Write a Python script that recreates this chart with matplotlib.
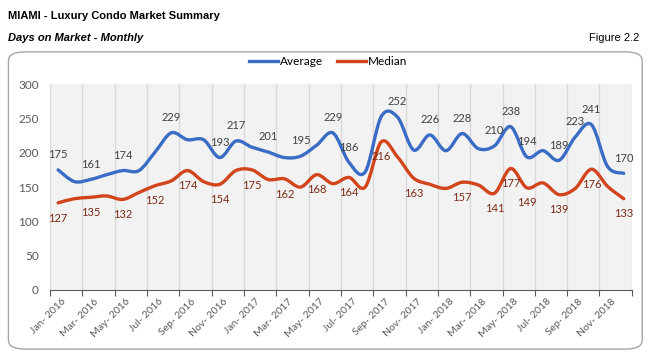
import matplotlib.pyplot as plt
from matplotlib.patches import FancyBboxPatch, PathPatch
from matplotlib.path import Path
from matplotlib.lines import Line2D

plt.rcParams['font.family'] = ['Lato', 'DejaVu Sans']

# ---- data ----
months = ['Jan', 'Feb', 'Mar', 'Apr', 'May', 'Jun', 'Jul', 'Aug', 'Sep', 'Oct', 'Nov', 'Dec']
years = [2016, 2017, 2018]
categories = ['%s- %d' % (m, y) for y in years for m in months]

average = [175, 158, 161, 168, 174, 174, 201, 229, 219, 219, 193, 217,
           208, 201, 193, 195, 211, 229, 186, 172, 253, 252, 204, 226,
           203, 228, 206, 210, 238, 194, 203, 189, 223, 241, 180, 170]
median = [127, 133, 135, 137, 132, 142, 152, 159, 174, 158, 154, 174,
          175, 161, 162, 150, 168, 155, 164, 150, 216, 194, 163, 154,
          148, 157, 153, 141, 177, 149, 156, 139, 148, 176, 151, 133]

avg_labeled = [0, 2, 4, 7, 10, 11, 13, 15, 17, 18, 21, 23, 25, 27, 28, 29, 31, 32, 33, 35]
med_labeled = [0, 2, 4, 6, 8, 10, 12, 14, 16, 18, 20, 22, 25, 27, 28, 29, 31, 33, 35]

blue = '#3b6cc5'
red = '#d2451c'
head_font = ['Liberation Sans', 'DejaVu Sans']


def smooth_path(xs, ys):
    # Excel-style smoothed line: cubic Bezier through every point (Catmull-Rom tangents)
    n = len(xs)
    verts = [(xs[0], ys[0])]
    codes = [Path.MOVETO]
    for k in range(n - 1):
        k0 = max(k - 1, 0)
        k3 = min(k + 2, n - 1)
        c1 = (xs[k] + (xs[k + 1] - xs[k0]) / 6, ys[k] + (ys[k + 1] - ys[k0]) / 6)
        c2 = (xs[k + 1] - (xs[k3] - xs[k]) / 6, ys[k + 1] - (ys[k3] - ys[k]) / 6)
        verts += [c1, c2, (xs[k + 1], ys[k + 1])]
        codes += [Path.CURVE4] * 3
    return Path(verts, codes)


fig = plt.figure(figsize=(6.5, 3.58), dpi=100)

# header
fig.text(0.013, 0.955, 'MIAMI - Luxury Condo Market Summary', fontsize=8, fontweight='bold',
         family=head_font, va='center')
fig.text(0.013, 0.895, 'Days on Market - Monthly', fontsize=8, fontweight='bold', style='italic',
         family=head_font, va='center')
fig.text(0.983, 0.895, 'Figure 2.2', fontsize=8, ha='right', family=head_font, va='center')

# chart frame
frame = FancyBboxPatch((0.013, 0.025), 0.975, 0.83, boxstyle='round,pad=0,rounding_size=0.025',
                       transform=fig.transFigure, facecolor='white', edgecolor='#a6a6a6',
                       linewidth=1, zorder=-10)
fig.patches.append(frame)

ax = fig.add_axes([0.077, 0.19, 0.895, 0.575])
ax.set_facecolor('#f2f2f2')
x = list(range(len(categories)))

ax.add_patch(PathPatch(smooth_path(x, average), fill=False, edgecolor=blue, linewidth=2.4,
                       capstyle='round', joinstyle='round'))
ax.add_patch(PathPatch(smooth_path(x, median), fill=False, edgecolor=red, linewidth=2.4,
                       capstyle='round', joinstyle='round'))

for i in avg_labeled:
    ax.annotate(str(average[i]), (x[i], average[i]), xytext=(0, 7), textcoords='offset points',
                ha='center', va='bottom', fontsize=8, color='#404040')
for i in med_labeled:
    ax.annotate(str(median[i]), (x[i], median[i]), xytext=(0, -7), textcoords='offset points',
                ha='center', va='top', fontsize=8, color='#7b2a14')

ax.set_xlim(-0.5, len(categories) - 0.5)
ax.set_ylim(0, 300)
ax.set_yticks(range(0, 301, 50))

# ticks and grid at category boundaries, labels at every second category
ax.set_xticks([b - 0.5 for b in range(0, len(categories) + 1, 2)])
ax.set_xticklabels([])
ax.set_xticks([i + 0.2 for i in range(0, len(categories), 2)], minor=True)
ax.set_xticklabels(categories[::2], minor=True, rotation=45, ha='right', va='top',
                   rotation_mode='anchor', fontsize=7.5, color='#595959')
ax.tick_params(axis='x', which='major', length=4, color='#595959', direction='out')
ax.tick_params(axis='x', which='minor', length=0, pad=5)
ax.tick_params(axis='y', length=0, labelsize=8.5, labelcolor='#595959', pad=8)
ax.grid(axis='x', which='major', color='#d9d9d9', linewidth=1)
ax.set_axisbelow(True)

for s in ['top', 'right', 'left']:
    ax.spines[s].set_visible(False)
ax.spines['bottom'].set_color('#595959')

handles = [Line2D([], [], color=blue, linewidth=2.4), Line2D([], [], color=red, linewidth=2.4)]
fig.legend(handles, ['Average', 'Median'], loc='center', bbox_to_anchor=(0.505, 0.828), ncol=2,
           frameon=False, fontsize=8.5, handlelength=2.4, columnspacing=1.2, handletextpad=0.2)

fig.savefig('out.png', dpi=100)
